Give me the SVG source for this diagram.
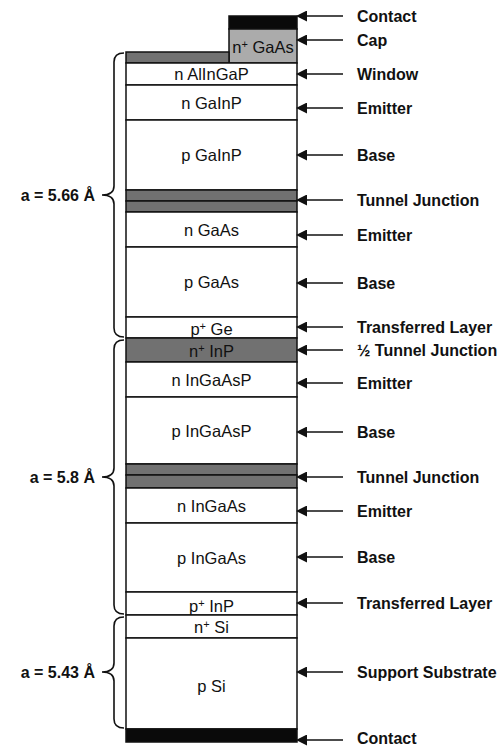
<svg xmlns="http://www.w3.org/2000/svg" width="501" height="748" viewBox="0 0 501 748">
<style>
.ly{stroke:#111;stroke-width:1.5}
.w{fill:#fff}
.d{fill:#717171}
.k{fill:#0a0a0a}
.g{fill:#ababab}
.t{font-family:"Liberation Sans",Arial,sans-serif;font-size:16.5px;fill:#111;text-anchor:middle}
.lb{font-family:"Liberation Sans",Arial,sans-serif;font-size:16px;font-weight:bold;fill:#111}
.ar{stroke:#111;stroke-width:1.5;fill:none}
.br{stroke:#111;stroke-width:1.6;fill:none}
</style>
<defs>
<marker id="ah" viewBox="0 0 10 10" refX="0" refY="5" markerWidth="11" markerHeight="11" markerUnits="userSpaceOnUse" orient="auto-start-reverse">
<path d="M0,0 L10,5 L0,10 z" fill="#111"/>
</marker>
</defs>
<rect width="501" height="748" fill="#fff"/>

<g id="layers">
<g id="contact-top"><rect class="ly k" x="229" y="16" width="68" height="13"/></g>
<g id="cap"><rect class="ly g" x="229" y="29" width="68" height="34"/><text class="t" x="263" y="53">n<tspan font-size="11" dy="-5">+</tspan><tspan dy="5"> GaAs</tspan></text></g>
<g id="cap-side"><rect class="ly d" x="126" y="52" width="103" height="11"/></g>
<g id="window"><rect class="ly w" x="126" y="63" width="171" height="22"/><text class="t" x="211.5" y="80">n AlInGaP</text></g>
<g id="n-gainp"><rect class="ly w" x="126" y="85" width="171" height="35"/><text class="t" x="211.5" y="109">n GaInP</text></g>
<g id="p-gainp"><rect class="ly w" x="126" y="120" width="171" height="70"/><text class="t" x="211.5" y="161">p GaInP</text></g>
<g id="tj1"><rect class="ly d" x="126" y="190" width="171" height="11"/><rect class="ly d" x="126" y="201" width="171" height="11"/></g>
<g id="n-gaas"><rect class="ly w" x="126" y="212" width="171" height="35"/><text class="t" x="211.5" y="236">n GaAs</text></g>
<g id="p-gaas"><rect class="ly w" x="126" y="247" width="171" height="70"/><text class="t" x="211.5" y="288">p GaAs</text></g>
<g id="p-ge"><rect class="ly w" x="126" y="317" width="171" height="21"/><text class="t" x="211.5" y="335">p<tspan font-size="11" dy="-5">+</tspan><tspan dy="5"> Ge</tspan></text></g>
<g id="n-inp"><rect class="ly d" x="126" y="338" width="171" height="24"/><text class="t" x="211.5" y="357">n<tspan font-size="11" dy="-5">+</tspan><tspan dy="5"> InP</tspan></text></g>
<g id="n-ingaasp"><rect class="ly w" x="126" y="362" width="171" height="35"/><text class="t" x="211.5" y="386">n InGaAsP</text></g>
<g id="p-ingaasp"><rect class="ly w" x="126" y="397" width="171" height="67"/><text class="t" x="211.5" y="437">p InGaAsP</text></g>
<g id="tj2"><rect class="ly d" x="126" y="464" width="171" height="11"/><rect class="ly d" x="126" y="475" width="171" height="13"/></g>
<g id="n-ingaas"><rect class="ly w" x="126" y="488" width="171" height="35"/><text class="t" x="211.5" y="512">n InGaAs</text></g>
<g id="p-ingaas"><rect class="ly w" x="126" y="523" width="171" height="69"/><text class="t" x="211.5" y="564">p InGaAs</text></g>
<g id="p-inp"><rect class="ly w" x="126" y="592" width="171" height="23"/><text class="t" x="211.5" y="612">p<tspan font-size="11" dy="-5">+</tspan><tspan dy="5"> InP</tspan></text></g>
<g id="n-si"><rect class="ly w" x="126" y="615" width="171" height="23"/><text class="t" x="211.5" y="633">n<tspan font-size="11" dy="-5">+</tspan><tspan dy="5"> Si</tspan></text></g>
<g id="p-si"><rect class="ly w" x="126" y="638" width="171" height="91"/><text class="t" x="211.5" y="692">p Si</text></g>
<g id="contact-bottom"><rect class="ly k" x="126" y="729" width="171" height="13"/></g>
</g>

<g id="connectors">
<line class="ar" x1="343" y1="16" x2="307" y2="16" marker-end="url(#ah)"/>
<line class="ar" x1="343" y1="40" x2="307" y2="40" marker-end="url(#ah)"/>
<line class="ar" x1="343" y1="74" x2="307" y2="74" marker-end="url(#ah)"/>
<line class="ar" x1="343" y1="108" x2="307" y2="108" marker-end="url(#ah)"/>
<line class="ar" x1="343" y1="155" x2="307" y2="155" marker-end="url(#ah)"/>
<line class="ar" x1="343" y1="200" x2="307" y2="200" marker-end="url(#ah)"/>
<line class="ar" x1="343" y1="235" x2="307" y2="235" marker-end="url(#ah)"/>
<line class="ar" x1="343" y1="283" x2="307" y2="283" marker-end="url(#ah)"/>
<line class="ar" x1="343" y1="327" x2="307" y2="327" marker-end="url(#ah)"/>
<line class="ar" x1="343" y1="350" x2="307" y2="350" marker-end="url(#ah)"/>
<line class="ar" x1="343" y1="383" x2="307" y2="383" marker-end="url(#ah)"/>
<line class="ar" x1="343" y1="432" x2="307" y2="432" marker-end="url(#ah)"/>
<line class="ar" x1="343" y1="477" x2="307" y2="477" marker-end="url(#ah)"/>
<line class="ar" x1="343" y1="511" x2="307" y2="511" marker-end="url(#ah)"/>
<line class="ar" x1="343" y1="557" x2="307" y2="557" marker-end="url(#ah)"/>
<line class="ar" x1="343" y1="603" x2="307" y2="603" marker-end="url(#ah)"/>
<line class="ar" x1="343" y1="672" x2="307" y2="672" marker-end="url(#ah)"/>
<line class="ar" x1="343" y1="740" x2="307" y2="740" marker-end="url(#ah)"/>
</g>

<g id="labels">
<text class="lb" x="357" y="22">Contact</text>
<text class="lb" x="357" y="46">Cap</text>
<text class="lb" x="357" y="80">Window</text>
<text class="lb" x="357" y="114">Emitter</text>
<text class="lb" x="357" y="161">Base</text>
<text class="lb" x="357" y="206">Tunnel Junction</text>
<text class="lb" x="357" y="241">Emitter</text>
<text class="lb" x="357" y="289">Base</text>
<text class="lb" x="357" y="333">Transferred Layer</text>
<text class="lb" x="357" y="356">½ Tunnel Junction</text>
<text class="lb" x="357" y="389">Emitter</text>
<text class="lb" x="357" y="438">Base</text>
<text class="lb" x="357" y="483">Tunnel Junction</text>
<text class="lb" x="357" y="517">Emitter</text>
<text class="lb" x="357" y="563">Base</text>
<text class="lb" x="357" y="609">Transferred Layer</text>
<text class="lb" x="357" y="678">Support Substrate</text>
<text class="lb" x="357" y="744">Contact</text>
</g>

<g id="braces">
<path class="br" d="M124,53 Q114,53 114,62 L114,186 Q114,195 102,195 Q114,195 114,204 L114,328 Q114,337 124,337"/>
<path class="br" d="M124,340 Q114,340 114,349 L114,468 Q114,477 102,477 Q114,477 114,486 L114,605 Q114,614 124,614"/>
<path class="br" d="M124,617 Q114,617 114,626 L114,663 Q114,672 102,672 Q114,672 114,681 L114,719 Q114,728 124,728"/>
<text class="lb" x="95" y="201" text-anchor="end">a = 5.66 Å</text>
<text class="lb" x="95" y="483" text-anchor="end">a = 5.8 Å</text>
<text class="lb" x="95" y="678" text-anchor="end">a = 5.43 Å</text>
</g>
</svg>
